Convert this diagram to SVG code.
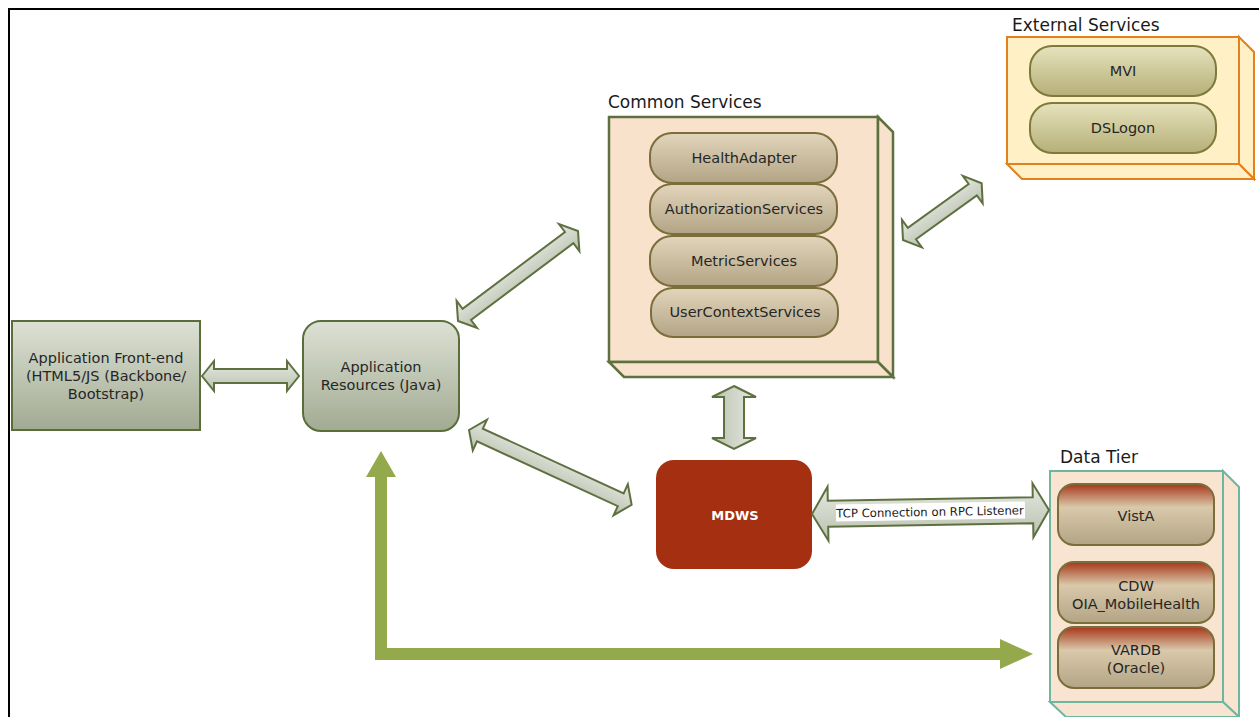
<svg xmlns="http://www.w3.org/2000/svg" width="1259" height="717" viewBox="0 0 1259 717">
<defs>
<linearGradient id="gBox" x1="0" y1="0" x2="0" y2="1"><stop offset="0" stop-color="#dde1d5"/><stop offset="1" stop-color="#a2aa92"/></linearGradient>
<linearGradient id="gPill" x1="0" y1="0" x2="0" y2="1"><stop offset="0" stop-color="#e2d5bb"/><stop offset="1" stop-color="#b3a485"/></linearGradient>
<linearGradient id="gExt" x1="0" y1="0" x2="0" y2="1"><stop offset="0" stop-color="#e6e3bd"/><stop offset="1" stop-color="#b6af78"/></linearGradient>
<linearGradient id="gData" x1="0" y1="0" x2="0" y2="1"><stop offset="0" stop-color="#a8361a"/><stop offset="0.38" stop-color="#d9c9aa"/><stop offset="1" stop-color="#b2a485"/></linearGradient>
<linearGradient id="gArrow" x1="0" y1="0" x2="0" y2="1"><stop offset="0" stop-color="#e6e9e2"/><stop offset="1" stop-color="#b9c1ae"/></linearGradient>
<style>
.t{font-family:"DejaVu Sans","Liberation Sans",sans-serif;font-size:14.5px;fill:#262626;text-anchor:middle}
.lbl{font-family:"DejaVu Sans","Liberation Sans",sans-serif;font-size:17px;fill:#1a1a1a}
.arr{fill:url(#gArrow);stroke:#5f7040;stroke-width:2;stroke-linejoin:miter}
.pill{fill:url(#gPill);stroke:#7a6e3b;stroke-width:2}
.ext{fill:url(#gExt);stroke:#7d7a3c;stroke-width:2}
.dat{fill:url(#gData);stroke:#7a6e3b;stroke-width:2}
.cs{fill:#f8e2cc;stroke:#5e7040;stroke-width:2.5}
.es{fill:#fff0c6;stroke:#e3801f;stroke-width:2}
.dt{fill:#f8e4d0;stroke:#6fb79c;stroke-width:2}
</style>
</defs>
<rect width="1259" height="717" fill="#fff"/>
<path d="M9,717 V9 H1259" fill="none" stroke="#000" stroke-width="2"/>

<g id="common-services">
<rect class="cs" x="609" y="117" width="269" height="245"/>
<polygon class="cs" points="878,117 893,132 893,377 878,362"/>
<polygon class="cs" points="609,362 878,362 893,377 624,377"/>
<text class="lbl" x="608" y="108">Common Services</text>
<rect class="pill" x="650" y="133" width="187" height="50" rx="22"/>
<text class="t" x="744" y="163">HealthAdapter</text>
<rect class="pill" x="650" y="184" width="187" height="50" rx="22"/>
<text class="t" x="744" y="214">AuthorizationServices</text>
<rect class="pill" x="650" y="236" width="187" height="50" rx="22"/>
<text class="t" x="744" y="266">MetricServices</text>
<rect class="pill" x="651" y="288" width="187" height="49" rx="22"/>
<text class="t" x="745" y="317">UserContextServices</text>
</g>

<g id="external-services">
<rect class="es" x="1007" y="37" width="232" height="127"/>
<polygon class="es" points="1239,37 1254,52 1254,179 1239,164"/>
<polygon class="es" points="1007,164 1239,164 1254,179 1022,179"/>
<text class="lbl" x="1012" y="31">External Services</text>
<rect class="ext" x="1030" y="46" width="186" height="50" rx="22"/>
<text class="t" x="1123" y="76">MVI</text>
<rect class="ext" x="1030" y="103" width="186" height="50" rx="22"/>
<text class="t" x="1123" y="133">DSLogon</text>
</g>

<g id="data-tier">
<rect class="dt" x="1050" y="471" width="173" height="231"/>
<polygon class="dt" points="1223,471 1239,487 1239,717 1223,702"/>
<polygon class="dt" points="1050,702 1223,702 1239,717 1066,717"/>
<text class="lbl" x="1060" y="463">Data Tier</text>
<rect class="dat" x="1058" y="484" width="156" height="61" rx="16"/>
<text class="t" x="1136" y="521">VistA</text>
<rect class="dat" x="1058" y="562" width="156" height="61" rx="16"/>
<text class="t" x="1136" y="591">CDW</text>
<text class="t" x="1136" y="609">OIA_MobileHealth</text>
<rect class="dat" x="1058" y="627" width="156" height="61" rx="16"/>
<text class="t" x="1136" y="655">VARDB</text>
<text class="t" x="1136" y="673">(Oracle)</text>
</g>

<g id="front-end">
<rect x="12" y="321" width="188" height="109" fill="url(#gBox)" stroke="#5b6e3a" stroke-width="2"/>
<text class="t" x="106" y="363">Application Front-end</text>
<text class="t" x="106" y="381">(HTML5/JS (Backbone/</text>
<text class="t" x="106" y="399">Bootstrap)</text>
</g>

<g id="app-resources">
<rect x="303" y="321" width="156" height="110" rx="18" fill="url(#gBox)" stroke="#5b6e3a" stroke-width="2"/>
<text class="t" x="381" y="372">Application</text>
<text class="t" x="381" y="390">Resources (Java)</text>
</g>

<g id="mdws">
<rect x="656" y="460" width="156" height="109" rx="18" fill="#a52f11"/>
<text x="735" y="520" font-family="DejaVu Sans, Liberation Sans, sans-serif" font-size="13" font-weight="bold" fill="#fff" text-anchor="middle">MDWS</text>
</g>

<g id="connectors">
<path class="arr" transform="translate(202,376)" d="M0,0 L12,-15 L12,-7 L85,-7 L85,-15 L97,0 L85,15 L85,7 L12,7 L12,15 Z"/>
<path class="arr" transform="translate(458,321) rotate(-36.87)" d="M0,0 L11,-17 L11,-7 L139,-7 L139,-17 L150,0 L139,17 L139,7 L11,7 L11,17 Z"/>
<path class="arr" transform="translate(903,240) rotate(-35.8)" d="M0,0 L11,-17 L11,-7 L86,-7 L86,-17 L97,0 L86,17 L86,7 L11,7 L11,17 Z"/>
<path class="arr" transform="translate(469,430) rotate(24.7)" d="M0,0 L12,-17 L12,-7 L167,-7 L167,-17 L179,0 L167,17 L167,7 L12,7 L12,17 Z"/>
<path class="arr" transform="translate(734,386) rotate(90)" d="M0,0 L11,-22 L11,-10 L52,-10 L52,-22 L63,0 L52,22 L52,10 L11,10 L11,22 Z"/>
<path class="arr" transform="translate(812,514) rotate(-0.97)" d="M0,0 L16,-27 L16,-13 L221,-13 L221,-27 L237,0 L221,27 L221,13 L16,13 L16,27 Z"/>
<g transform="rotate(-0.97 930 512)">
<rect x="836" y="503" width="189" height="17" fill="#fff"/>
<text x="930" y="516" font-family="DejaVu Sans, Liberation Sans, sans-serif" font-size="11.7" fill="#1a1a1a" text-anchor="middle">TCP Connection on RPC Listener</text>
</g>
<path d="M375,477 L366,477 L381,451 L396,477 L387,477 L387,648 L1000,648 L1000,639 L1033,654 L1000,669 L1000,660 L375,660 Z" fill="#93a94c"/>
</g>
</svg>
